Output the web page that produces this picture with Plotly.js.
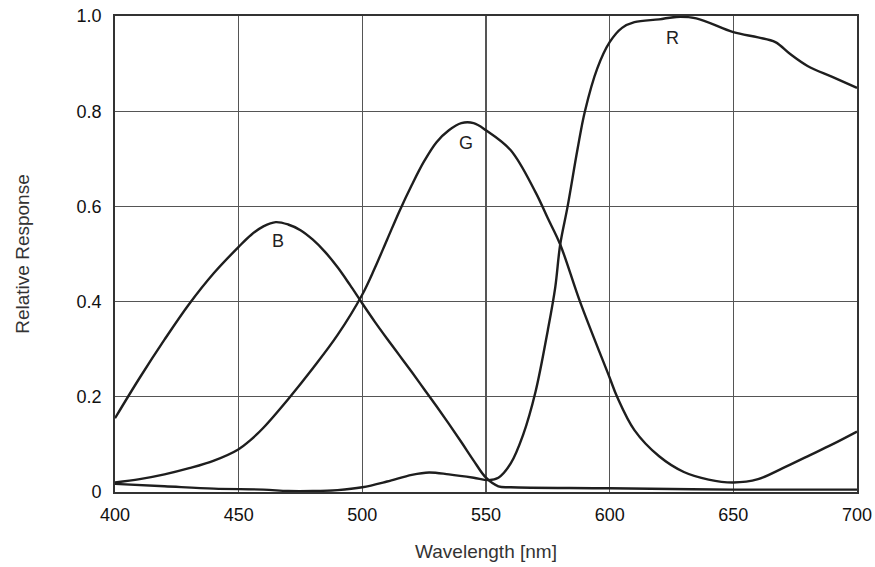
<!DOCTYPE html>
<html>
<head>
<meta charset="utf-8">
<script src="https://cdn.plot.ly/plotly-3.0.1.min.js"></script>
<style>html,body{margin:0;padding:0;background:#fff;}#chart{width:875px;height:567px;}</style>
</head>
<body>
<div id="chart"></div>
<script>
const bWave = [400,410,420,430,440,450,455,460,465,470,475,480,485,490,495,500,505,510,515,520,525,530,535,540,545,550,555,560,600,650,700];
const bResp = [0.155,0.24,0.32,0.395,0.46,0.515,0.54,0.558,0.567,0.562,0.55,0.53,0.504,0.472,0.435,0.396,0.358,0.322,0.287,0.252,0.216,0.18,0.143,0.105,0.066,0.03,0.012,0.01,0.008,0.005,0.005];

const gWave = [400,410,420,430,440,450,455,460,470,480,490,500,505,510,515,520,525,530,535,540,545,550,560,570,575,580,588,600,603,610,620,630,640,650,660,670,680,690,700];
const gResp = [0.02,0.027,0.037,0.05,0.066,0.09,0.11,0.135,0.195,0.26,0.33,0.415,0.47,0.53,0.59,0.645,0.695,0.735,0.76,0.775,0.775,0.76,0.718,0.63,0.575,0.52,0.4,0.24,0.2,0.13,0.075,0.042,0.026,0.02,0.027,0.05,0.075,0.1,0.127];

const rWave = [400,420,440,460,470,480,490,500,510,520,527,535,545,551,555,560,565,570,575,578,580,583,587,590,595,600,605,610,620,627,635,650,660,667,673,680,690,700];
const rResp = [0.017,0.012,0.007,0.005,0.002,0.002,0.004,0.01,0.022,0.036,0.041,0.037,0.03,0.025,0.03,0.06,0.12,0.21,0.34,0.43,0.52,0.6,0.72,0.8,0.89,0.945,0.975,0.987,0.993,0.998,0.995,0.966,0.955,0.945,0.92,0.895,0.872,0.849];

const curveLabels = ['B','G','R'];
const labelX = [465.9,541.9,625.6];
const labelY = [0.527,0.733,0.954];

const xTicks = [400,450,500,550,600,650,700];
const yTicks = [0,0.2,0.4,0.6,0.8,1.0];
const yTickText = ['0','0.2','0.4','0.6','0.8','1.0'];

const FONT = 'Liberation Sans, Arial, sans-serif';
const lineStyle = {color:'#1e1e1e', width:2.4, shape:'spline', smoothing:1};
const traces = [
  {x:bWave, y:bResp, mode:'lines', line:lineStyle, name:'B', hoverinfo:'skip'},
  {x:gWave, y:gResp, mode:'lines', line:lineStyle, name:'G', hoverinfo:'skip'},
  {x:rWave, y:rResp, mode:'lines', line:lineStyle, name:'R', hoverinfo:'skip'}
];

const annotations = curveLabels.map((t,i)=>({
  x:labelX[i], y:labelY[i], text:t, showarrow:false,
  font:{family:FONT, size:18, color:'#222'}
}));

const layout = {
  width:875, height:567,
  margin:{l:115, r:18, t:16, b:75},
  paper_bgcolor:'#fff', plot_bgcolor:'#fff',
  showlegend:false,
  font:{family:FONT, color:'#111'},
  xaxis:{
    range:[400,700], tickvals:xTicks, ticks:'', ticklen:0, ticklabelstandoff:6,
    showgrid:true, gridcolor:'#555', gridwidth:1.4,
    showline:true, linecolor:'#333', linewidth:1.8, mirror:true,
    zeroline:false, tickfont:{size:18, color:'#111'},
    title:{text:'Wavelength [nm]', font:{size:19, color:'#333'}, standoff:20}
  },
  yaxis:{
    range:[0,1], tickvals:yTicks, ticktext:yTickText, ticks:'', ticklabelstandoff:8,
    showgrid:true, gridcolor:'#555', gridwidth:1.4,
    showline:true, linecolor:'#333', linewidth:1.8, mirror:true,
    zeroline:false, tickfont:{size:18, color:'#111'},
    title:{text:'Relative Response', font:{size:19, color:'#333'}, standoff:42}
  },
  annotations:annotations
};

Plotly.newPlot('chart', traces, layout, {staticPlot:true, displayModeBar:false});
</script>
</body>
</html>
